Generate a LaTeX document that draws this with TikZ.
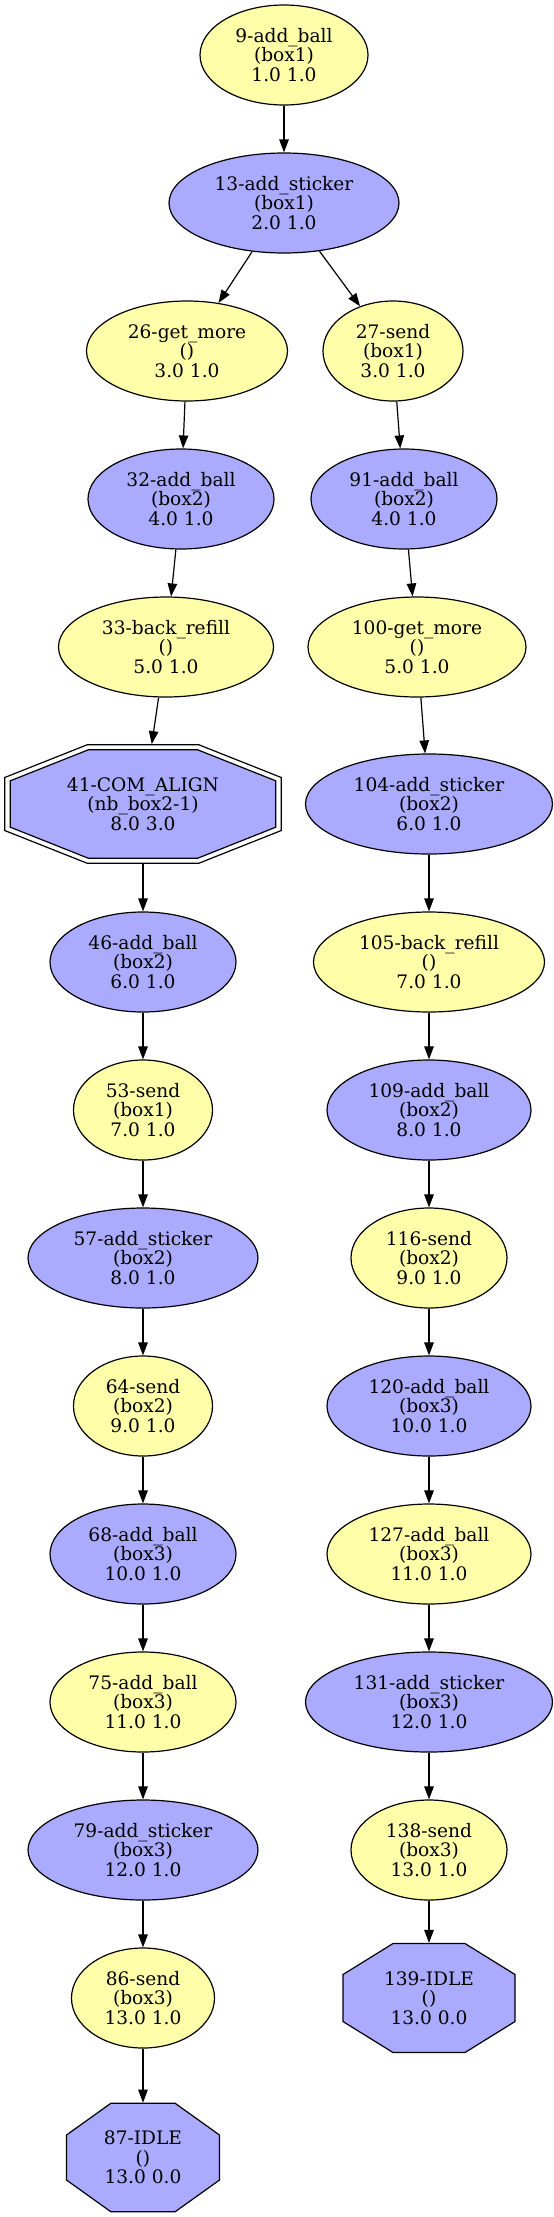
\documentclass[tikz,border=0pt]{standalone}
\usepackage{fontspec}
\newfontfamily\dotfont{DejaVu Serif}
\usetikzlibrary{arrows.meta,shapes.geometric}

\definecolor{yelfill}{HTML}{FFFFAA}
\definecolor{blufill}{HTML}{AAAAFF}

% octagon: centre, style, half width, half side, half top, half height
\newcommand{\octo}[6]{%
  \draw[#2, shift={#1}] (-#3,-#4) -- (-#3,#4) -- (-#5,#6) -- (#5,#6)
    -- (#3,#4) -- (#3,-#4) -- (#5,-#6) -- (-#5,-#6) -- cycle;}

\begin{document}
\begin{tikzpicture}[x=1pt, y=-1pt, line width=1.2pt,
        >={Triangle[length=13pt,width=9.5pt]},
        every node/.style={font=\dotfont\fontsize{18.6}{19.5}\selectfont,
          align=center, inner sep=0pt},
        yel/.style={ellipse, draw, fill=yelfill, minimum height=100pt},
        blu/.style={ellipse, draw, fill=blufill, minimum height=100pt},
        idle/.style={rectangle, draw=none}]
        \useasboundingbox (0,0) rectangle (554,2217);
        % left branch
        \node[yel, minimum width=168pt] (n9) at (284,55) {9-add\_ball\\(box1)\\1.0 1.0};
        \node[blu, minimum width=230pt] (n13) at (284,203) {13-add\_sticker\\(box1)\\2.0 1.0};
        \node[yel, minimum width=201pt] (n26) at (187,351) {26-get\_more\\()\\3.0 1.0};
        \node[blu, minimum width=186pt] (n32) at (181,499) {32-add\_ball\\(box2)\\4.0 1.0};
        \node[yel, minimum width=215pt] (n33) at (166,647) {33-back\_refill\\()\\5.0 1.0};
        \octo{(143,804)}{fill=white}{138.3}{26.5}{55.7}{59.3}
        \octo{(143,804)}{fill=blufill}{132.7}{23.2}{54.7}{54.2}
        \node[idle, minimum width=276.6pt, minimum height=118.6pt] (n41) at (143,804) {41-COM\_ALIGN\\(nb\_box2-1)\\8.0 3.0};
        \node[blu, minimum width=186pt] (n46) at (143,962) {46-add\_ball\\(box2)\\6.0 1.0};
        \node[yel, minimum width=139pt] (n53) at (143,1110) {53-send\\(box1)\\7.0 1.0};
        \node[blu, minimum width=230pt] (n57) at (143,1258) {57-add\_sticker\\(box2)\\8.0 1.0};
        \node[yel, minimum width=139pt] (n64) at (143,1406) {64-send\\(box2)\\9.0 1.0};
        \node[blu, minimum width=186pt] (n68) at (143,1554) {68-add\_ball\\(box3)\\10.0 1.0};
        \node[yel, minimum width=186pt] (n75) at (143,1702) {75-add\_ball\\(box3)\\11.0 1.0};
        \node[blu, minimum width=230pt] (n79) at (143,1850) {79-add\_sticker\\(box3)\\12.0 1.0};
        \node[yel, minimum width=143pt] (n86) at (143,1998) {86-send\\(box3)\\13.0 1.0};
        \octo{(143,2157.5)}{fill=blufill}{76.5}{22.5}{32.2}{54.2}
        \node[idle, minimum width=153pt, minimum height=108.4pt] (n87) at (143,2157.5) {87-IDLE\\()\\13.0 0.0};
        % right branch
        \node[yel, minimum width=140pt] (n27) at (393,351) {27-send\\(box1)\\3.0 1.0};
        \node[blu, minimum width=186pt] (n91) at (404,499) {91-add\_ball\\(box2)\\4.0 1.0};
        \node[yel, minimum width=218pt] (n100) at (417,647) {100-get\_more\\()\\5.0 1.0};
        \node[blu, minimum width=247pt] (n104) at (429,804) {104-add\_sticker\\(box2)\\6.0 1.0};
        \node[yel, minimum width=231pt] (n105) at (429,962) {105-back\_refill\\()\\7.0 1.0};
        \node[blu, minimum width=204pt] (n109) at (429,1110) {109-add\_ball\\(box2)\\8.0 1.0};
        \node[yel, minimum width=156pt] (n116) at (429,1258) {116-send\\(box2)\\9.0 1.0};
        \node[blu, minimum width=204pt] (n120) at (429,1406) {120-add\_ball\\(box3)\\10.0 1.0};
        \node[yel, minimum width=204pt] (n127) at (429,1554) {127-add\_ball\\(box3)\\11.0 1.0};
        \node[blu, minimum width=247pt] (n131) at (429,1702) {131-add\_sticker\\(box3)\\12.0 1.0};
        \node[yel, minimum width=156pt] (n138) at (429,1850) {138-send\\(box3)\\13.0 1.0};
        \octo{(429,1998)}{fill=blufill}{86}{23.5}{36}{54.5}
        \node[idle, minimum width=172pt, minimum height=109pt] (n139) at (429,1998) {139-IDLE\\()\\13.0 0.0};
        % edges
        \foreach \a/\b in {n9/n13, n13/n26, n13/n27, n26/n32, n32/n33, n33/n41,
          n41/n46, n46/n53, n53/n57, n57/n64, n64/n68, n68/n75, n75/n79,
          n79/n86, n86/n87, n27/n91, n91/n100, n100/n104, n104/n105,
          n105/n109, n109/n116, n116/n120, n120/n127, n127/n131,
          n131/n138, n138/n139}
          \draw[->] (\a) -- (\b);
      \end{tikzpicture}
\end{document}
